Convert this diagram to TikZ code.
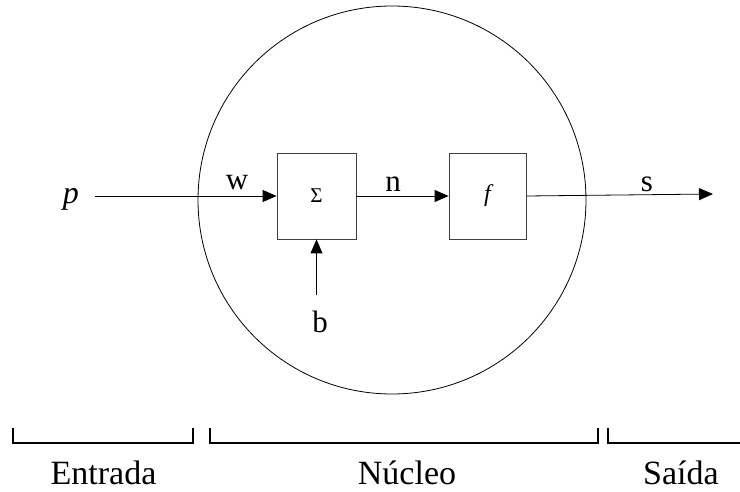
\documentclass[tikz,border=0pt]{standalone}
\usepackage{fontspec}
\setmainfont{Liberation Serif}
\usetikzlibrary{arrows.meta}
\begin{document}
\begin{tikzpicture}[x=1pt,y=-1pt,
  blk/.style={draw=black!75, line width=0.8pt, minimum height=86pt, inner sep=0pt, font=\fontsize{21}{24}\selectfont},
  arr/.style={line width=0.8pt, -{Triangle[length=14pt,width=12pt]}},
  lbl/.style={font=\fontsize{31}{36}\selectfont, anchor=base, inner sep=0pt},
  brk/.style={line width=2.5pt},
  capt/.style={font=\fontsize{34}{40}\selectfont, anchor=base, inner sep=0pt}]
\useasboundingbox (0,0) rectangle (740,492);
% core circle
\node (core) [circle, draw, line width=0.8pt, minimum size=388pt, inner sep=0pt] at (392,200) {};
% blocks
\node (sig) [blk, minimum width=79pt] at (316.5,196) {Σ};
\node (fb) [blk, minimum width=77pt, font=\fontsize{24}{28}\selectfont\itshape] at (487.5,196) {f};
% endpoints
\coordinate (pin) at (95,196);
\coordinate (bin) at (316.5,295);
\coordinate (sout) at (713,194);
% connectors
\draw[arr] (pin) -- (sig.west);
\draw[arr] (sig.east) -- (fb.west);
\draw[arr] (bin) -- (sig.south);
\draw[arr] (fb.east) -- (sout);
% labels
\node (lp) [lbl, font=\fontsize{32}{36}\selectfont\itshape] at (71,204) {p};
\node (lw) [lbl] at (237,190) {w};
\node (ln) [lbl] at (393,192) {n};
\node (ls) [lbl] at (647,192) {s};
\node (lb) [lbl] at (320,332) {b};
% brackets
\draw[brk] (13,428) -- (13,443) -- (193,443) -- (193,428);
\draw[brk] (210,428) -- (210,443) -- (598,443) -- (598,428);
\draw[brk] (608,428) -- (608,443) -- (741,443);
% captions
\node (ce) [capt] at (103.5,484) {Entrada};
\node (cn) [capt] at (407,484) {Núcleo};
\node (cs) [capt] at (681,484) {Saída};
\end{tikzpicture}
\end{document}
